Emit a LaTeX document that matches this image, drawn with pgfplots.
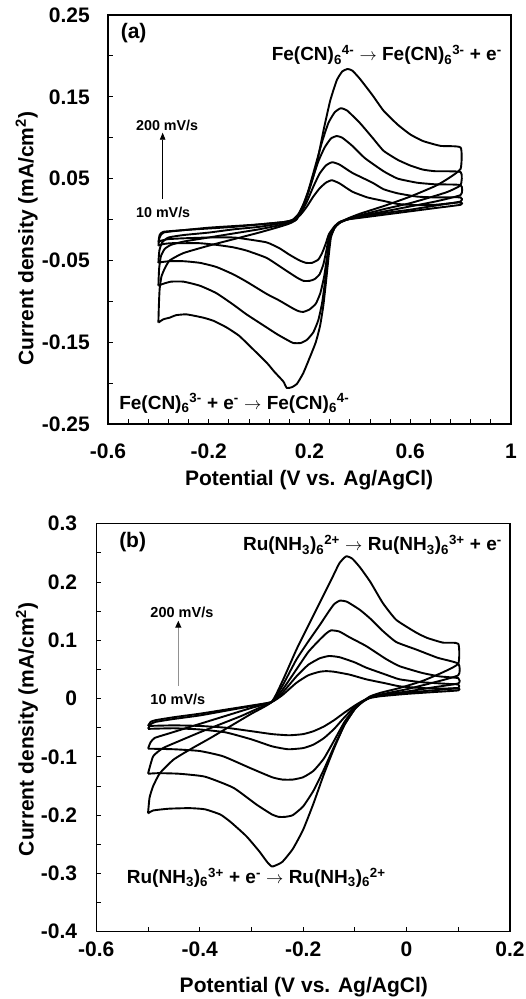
\documentclass[border=0pt]{standalone}
\usepackage{pgfplots}
\pgfplotsset{compat=1.18}
\usepackage{fontspec}
\setmainfont{Liberation Sans}
\usetikzlibrary{arrows.meta}
\definecolor{shaftgray}{RGB}{145,145,145}
\pgfplotsset{
  cvstyle/.style={
    scale only axis, clip=false,
    axis line style={black, line width=1.1pt},
    tick align=inside, tick pos=left,
    major tick length=5pt, minor tick length=5pt,
    every tick/.style={black, line width=0.9pt},
    ticklabel style={font=\fontsize{21}{21}\selectfont\bfseries, inner sep=0pt},
    label style={font=\fontsize{21}{21}\selectfont\bfseries},
  },
  cv/.style={black, line width=1.9pt, smooth, tension=0.3, line join=round},
}
\begin{document}
\begin{tikzpicture}
% ---------------- (a) ----------------
\begin{axis}[cvstyle, at={(108pt,575pt)}, anchor=south west, width=403pt, height=409pt,
  xmin=-0.6, xmax=1, ymin=-0.25, ymax=0.25,
  xtick={-0.6,-0.2,0.2,0.6,1}, xticklabels={-0.6,-0.2,0.2,0.6,1},
  minor xtick={-0.52,-0.44,-0.36,-0.28,-0.12,-0.04,0.04,0.12,0.28,0.36,0.44,0.52,0.68,0.76,0.84,0.92},
  ytick={-0.25,-0.15,-0.05,0.05,0.15,0.25}, yticklabels={-0.25,-0.15,-0.05,0.05,0.15,0.25},
  minor ytick={-0.2,-0.1,0,0.1,0.2},
  xticklabel style={anchor=north, yshift=-20pt},
  yticklabel style={anchor=east, xshift=-18pt},
  xlabel={Potential (V vs. Ag/AgCl)},
  ylabel={Current density (mA/cm\textsuperscript{2})},
  xlabel style={at={(rel axis cs:0.499,-0.1516)}, anchor=base},
  ylabel style={at={(rel axis cs:-0.2017,0.4535)}, anchor=center},
]
% 10 mV/s
\addplot[cv] coordinates {(-0.4,-0.028) (-0.395,-0.019) (-0.38,-0.015) (-0.3,-0.013) (-0.2,-0.010) (-0.1,-0.008) (0,-0.006) (0.1,-0.003) (0.14,0.000) (0.165,0.006) (0.19,0.016) (0.215,0.028) (0.24,0.038) (0.265,0.045) (0.289,0.048) (0.32,0.044) (0.37,0.034) (0.43,0.027) (0.494,0.0227) (0.55,0.019) (0.627,0.0175) (0.7,0.018) (0.8,0.021)
 (0.8,0.018) (0.7,0.014) (0.6,0.010) (0.5,0.006) (0.4,0.002) (0.35,0.000) (0.32,-0.003) (0.30,-0.008) (0.277,-0.018) (0.264,-0.030) (0.25,-0.041) (0.235,-0.049) (0.21,-0.053) (0.186,-0.053) (0.16,-0.050) (0.12,-0.043) (0.08,-0.035) (0.03,-0.028) (-0.05,-0.024) (-0.1,-0.022) (-0.2,-0.022) (-0.3,-0.023) (-0.36,-0.024) (-0.39,-0.026) (-0.4,-0.028)};
% 20 mV/s
\addplot[cv] coordinates {(-0.4,-0.032) (-0.395,-0.022) (-0.38,-0.016) (-0.3,-0.013) (-0.2,-0.011) (-0.1,-0.009) (0,-0.006) (0.1,-0.003) (0.14,0.000) (0.165,0.008) (0.19,0.022) (0.215,0.040) (0.24,0.056) (0.265,0.066) (0.29,0.070) (0.32,0.067) (0.37,0.057) (0.45,0.045) (0.494,0.037) (0.55,0.032) (0.627,0.028) (0.7,0.027) (0.8,0.027)
 (0.8,0.022) (0.7,0.017) (0.6,0.012) (0.5,0.008) (0.4,0.003) (0.35,0.000) (0.32,-0.003) (0.30,-0.009) (0.279,-0.020) (0.267,-0.038) (0.255,-0.055) (0.24,-0.067) (0.22,-0.073) (0.2,-0.075) (0.176,-0.075) (0.15,-0.071) (0.1,-0.061) (0.03,-0.047) (-0.05,-0.038) (-0.103,-0.034) (-0.17,-0.031) (-0.235,-0.029) (-0.3,-0.029) (-0.35,-0.029) (-0.38,-0.030) (-0.4,-0.032)};
% 50 mV/s
\addplot[cv] coordinates {(-0.4,-0.053) (-0.396,-0.038) (-0.385,-0.028) (-0.36,-0.022) (-0.3,-0.019) (-0.2,-0.016) (-0.1,-0.012) (0,-0.009) (0.08,-0.005) (0.13,-0.001) (0.16,0.008) (0.185,0.025) (0.21,0.048) (0.235,0.071) (0.26,0.088) (0.285,0.099) (0.308,0.102) (0.33,0.100) (0.37,0.090) (0.42,0.075) (0.494,0.059) (0.55,0.050) (0.627,0.045) (0.7,0.043) (0.8,0.042)
 (0.8,0.030) (0.7,0.022) (0.6,0.016) (0.5,0.010) (0.4,0.004) (0.35,0.000) (0.32,-0.004) (0.30,-0.010) (0.281,-0.022) (0.270,-0.045) (0.258,-0.070) (0.243,-0.090) (0.225,-0.103) (0.2,-0.110) (0.175,-0.113) (0.156,-0.112) (0.13,-0.108) (0.08,-0.099) (0.03,-0.091) (-0.05,-0.076) (-0.103,-0.067) (-0.17,-0.058) (-0.235,-0.053) (-0.3,-0.051) (-0.355,-0.051) (-0.385,-0.052) (-0.4,-0.053)};
% 100 mV/s
\addplot[cv] coordinates {(-0.4,-0.081) (-0.397,-0.060) (-0.39,-0.045) (-0.375,-0.036) (-0.35,-0.031) (-0.3,-0.027) (-0.2,-0.022) (-0.1,-0.017) (0,-0.012) (0.08,-0.007) (0.13,-0.002) (0.155,0.006) (0.175,0.018) (0.195,0.035) (0.22,0.062) (0.25,0.095) (0.275,0.118) (0.30,0.131) (0.324,0.136) (0.35,0.133) (0.40,0.118) (0.45,0.100) (0.494,0.084) (0.55,0.073) (0.6,0.066) (0.65,0.061) (0.7,0.059) (0.8,0.058)
 (0.8,0.042) (0.75,0.034) (0.7,0.029) (0.6,0.020) (0.5,0.013) (0.4,0.005) (0.35,0.000) (0.32,-0.004) (0.30,-0.010) (0.283,-0.022) (0.273,-0.045) (0.262,-0.075) (0.25,-0.102) (0.235,-0.123) (0.215,-0.138) (0.19,-0.147) (0.165,-0.151) (0.136,-0.151) (0.11,-0.147) (0.07,-0.140) (0.03,-0.132) (-0.05,-0.116) (-0.103,-0.104) (-0.17,-0.090) (-0.235,-0.081) (-0.3,-0.076) (-0.35,-0.076) (-0.385,-0.079) (-0.4,-0.081)};
% 200 mV/s
\addplot[cv] coordinates {(-0.4,-0.126) (-0.398,-0.105) (-0.395,-0.085) (-0.388,-0.070) (-0.375,-0.060) (-0.355,-0.050) (-0.3,-0.041) (-0.2,-0.032) (-0.1,-0.024) (0,-0.016) (0.08,-0.009) (0.12,-0.005) (0.149,0.000) (0.17,0.012) (0.189,0.027) (0.21,0.047) (0.229,0.068) (0.255,0.108) (0.282,0.145) (0.308,0.170) (0.33,0.181) (0.351,0.184) (0.37,0.182) (0.40,0.172) (0.45,0.152) (0.494,0.133) (0.55,0.116) (0.600,0.104) (0.65,0.096) (0.72,0.090) (0.8,0.088)
 (0.8,0.062) (0.75,0.050) (0.7,0.041) (0.6,0.028) (0.5,0.017) (0.4,0.007) (0.35,0.001) (0.32,-0.004) (0.30,-0.010) (0.285,-0.022) (0.276,-0.045) (0.266,-0.075) (0.255,-0.105) (0.242,-0.130) (0.225,-0.150) (0.202,-0.168) (0.175,-0.188) (0.15,-0.201) (0.13,-0.205) (0.110,-0.206) (0.096,-0.198) (0.06,-0.186) (0.03,-0.175) (-0.036,-0.155) (-0.08,-0.142) (-0.129,-0.132) (-0.18,-0.124) (-0.222,-0.120) (-0.288,-0.116) (-0.33,-0.117) (-0.355,-0.120) (-0.38,-0.122) (-0.4,-0.126)};
\node[anchor=west, font=\fontsize{21}{21}\selectfont\bfseries, inner sep=0pt] at (axis cs:-0.55,0.228) {(a)};
\node[anchor=base east, font=\fontsize{19}{19}\selectfont\bfseries, inner sep=0pt] at (axis cs:0.964,0.1938) {Fe(CN)\textsubscript{6}\textsuperscript{4-} $\rightarrow$ Fe(CN)\textsubscript{6}\textsuperscript{3-} + e\textsuperscript{-}};
\node[anchor=base west, font=\fontsize{19}{19}\selectfont\bfseries, inner sep=0pt] at (axis cs:-0.556,-0.232) {Fe(CN)\textsubscript{6}\textsuperscript{3-} + e\textsuperscript{-} $\rightarrow$ Fe(CN)\textsubscript{6}\textsuperscript{4-}};
\node[anchor=base west, font=\fontsize{14.3}{14.3}\selectfont\bfseries, inner sep=0pt] at (axis cs:-0.489,0.1086) {200 mV/s};
\node[anchor=base west, font=\fontsize{14.3}{14.3}\selectfont\bfseries, inner sep=0pt] at (axis cs:-0.489,0.003) {10 mV/s};
\draw[line width=0.8pt, -{Triangle[length=7pt,width=5.5pt]}] (axis cs:-0.383,0.025) -- (axis cs:-0.383,0.1061);
\end{axis}
% ---------------- (b) ----------------
\begin{axis}[cvstyle, at={(96.3pt,67.3pt)}, anchor=south west, width=413.7pt, height=408pt,
  xmin=-0.6, xmax=0.2, ymin=-0.4, ymax=0.3,
  xtick={-0.6,-0.4,-0.2,0,0.2}, xticklabels={-0.6,-0.4,-0.2,0,0.2},
  minor xtick={-0.5,-0.3,-0.1,0.1},
  ytick={-0.4,-0.3,-0.2,-0.1,0,0.1,0.2,0.3}, yticklabels={-0.4,-0.3,-0.2,-0.1,0,0.1,0.2,0.3},
  minor ytick={-0.35,-0.25,-0.15,-0.05,0.05,0.15,0.25},
  xticklabel style={anchor=north, yshift=-10pt},
  yticklabel style={anchor=east, xshift=-19pt},
  xlabel={Potential (V vs. Ag/AgCl)},
  ylabel={Current density (mA/cm\textsuperscript{2})},
  xlabel style={at={(rel axis cs:0.5016,-0.1495)}, anchor=base},
  ylabel style={at={(rel axis cs:-0.1675,0.4963)}, anchor=center},
]
% 10 mV/s
\addplot[cv] coordinates {(-0.5,-0.047) (-0.495,-0.040) (-0.485,-0.037) (-0.45,-0.032) (-0.40,-0.026) (-0.35,-0.019) (-0.30,-0.012) (-0.261,-0.006) (-0.24,0.006) (-0.213,0.027) (-0.19,0.040) (-0.168,0.046) (-0.155,0.047) (-0.14,0.046) (-0.11,0.041) (-0.078,0.033) (-0.04,0.026) (-0.0135,0.021) (0.03,0.018) (0.07,0.017) (0.1,0.018)
 (0.1,0.014) (0.05,0.011) (0,0.008) (-0.05,0.004) (-0.07,0.001) (-0.085,-0.004) (-0.10,-0.012) (-0.12,-0.024) (-0.14,-0.037) (-0.16,-0.048) (-0.18,-0.056) (-0.20,-0.061) (-0.227,-0.063) (-0.26,-0.061) (-0.3,-0.056) (-0.35,-0.050) (-0.4,-0.047) (-0.45,-0.046) (-0.5,-0.047)};
% 20 mV/s
\addplot[cv] coordinates {(-0.5,-0.052) (-0.495,-0.044) (-0.485,-0.040) (-0.45,-0.035) (-0.40,-0.029) (-0.35,-0.021) (-0.30,-0.013) (-0.261,-0.006) (-0.24,0.010) (-0.213,0.038) (-0.19,0.058) (-0.168,0.069) (-0.15,0.073) (-0.13,0.071) (-0.1,0.062) (-0.078,0.053) (-0.04,0.041) (-0.0135,0.033) (0.03,0.028) (0.083,0.025) (0.1,0.024)
 (0.1,0.018) (0.05,0.014) (0,0.010) (-0.05,0.005) (-0.07,0.002) (-0.085,-0.005) (-0.10,-0.014) (-0.12,-0.032) (-0.14,-0.052) (-0.16,-0.068) (-0.18,-0.079) (-0.20,-0.085) (-0.229,-0.087) (-0.26,-0.082) (-0.3,-0.070) (-0.35,-0.058) (-0.4,-0.053) (-0.45,-0.051) (-0.5,-0.052)};
% 50 mV/s
\addplot[cv] coordinates {(-0.5,-0.086) (-0.495,-0.075) (-0.487,-0.0675) (-0.46,-0.060) (-0.42,-0.049) (-0.38,-0.038) (-0.34,-0.027) (-0.30,-0.016) (-0.261,-0.006) (-0.24,0.015) (-0.213,0.050) (-0.19,0.080) (-0.168,0.101) (-0.155,0.112) (-0.146,0.117) (-0.13,0.115) (-0.11,0.105) (-0.078,0.090) (-0.04,0.068) (-0.0135,0.0555) (0.03,0.044) (0.064,0.038) (0.1,0.035)
 (0.1,0.026) (0.05,0.019) (0,0.012) (-0.05,0.006) (-0.07,0.002) (-0.085,-0.005) (-0.10,-0.016) (-0.12,-0.040) (-0.14,-0.072) (-0.16,-0.103) (-0.18,-0.124) (-0.20,-0.135) (-0.22,-0.139) (-0.240,-0.139) (-0.26,-0.135) (-0.303,-0.119) (-0.355,-0.099) (-0.4,-0.090) (-0.45,-0.087) (-0.5,-0.086)};
% 100 mV/s
\addplot[cv] coordinates {(-0.5,-0.129) (-0.49,-0.099) (-0.471,-0.085) (-0.44,-0.073) (-0.40,-0.058) (-0.36,-0.044) (-0.32,-0.030) (-0.29,-0.018) (-0.261,-0.006) (-0.24,0.022) (-0.213,0.067) (-0.19,0.098) (-0.168,0.126) (-0.15,0.150) (-0.14,0.162) (-0.129,0.168) (-0.115,0.166) (-0.09,0.152) (-0.07,0.137) (-0.046,0.116) (-0.02,0.097) (0.019,0.084) (0.06,0.070) (0.1,0.060)
 (0.1,0.040) (0.05,0.027) (0,0.016) (-0.05,0.007) (-0.07,0.002) (-0.085,-0.006) (-0.10,-0.018) (-0.12,-0.045) (-0.14,-0.082) (-0.16,-0.122) (-0.18,-0.158) (-0.20,-0.185) (-0.22,-0.200) (-0.235,-0.203) (-0.247,-0.203) (-0.26,-0.199) (-0.29,-0.182) (-0.335,-0.153) (-0.39,-0.134) (-0.44,-0.129) (-0.48,-0.128) (-0.5,-0.129)};
% 200 mV/s
\addplot[cv] coordinates {(-0.5,-0.197) (-0.497,-0.170) (-0.49,-0.150) (-0.477,-0.128) (-0.451,-0.105) (-0.42,-0.088) (-0.38,-0.068) (-0.34,-0.047) (-0.30,-0.026) (-0.261,-0.006) (-0.24,0.030) (-0.213,0.084) (-0.19,0.125) (-0.168,0.164) (-0.145,0.205) (-0.13,0.232) (-0.117,0.244) (-0.105,0.240) (-0.09,0.225) (-0.07,0.200) (-0.046,0.164) (-0.02,0.135) (0.019,0.113) (0.04,0.104) (0.07,0.096) (0.1,0.094)
 (0.1,0.060) (0.07,0.045) (0.03,0.030) (-0.014,0.018) (-0.05,0.010) (-0.07,0.004) (-0.085,-0.005) (-0.10,-0.018) (-0.12,-0.045) (-0.14,-0.085) (-0.16,-0.13) (-0.18,-0.18) (-0.20,-0.225) (-0.22,-0.258) (-0.24,-0.280) (-0.255,-0.287) (-0.261,-0.288) (-0.27,-0.280) (-0.285,-0.262) (-0.31,-0.236) (-0.34,-0.212) (-0.36,-0.199) (-0.39,-0.190) (-0.42,-0.188) (-0.46,-0.189) (-0.49,-0.192) (-0.5,-0.197)};
\node[anchor=west, font=\fontsize{21}{21}\selectfont\bfseries, inner sep=0pt] at (axis cs:-0.556,0.268) {(b)};
\node[anchor=base east, font=\fontsize{19}{19}\selectfont\bfseries, inner sep=0pt] at (axis cs:0.1846,0.2532) {Ru(NH\textsubscript{3})\textsubscript{6}\textsuperscript{2+} $\rightarrow$ Ru(NH\textsubscript{3})\textsubscript{6}\textsuperscript{3+} + e\textsuperscript{-}};
\node[anchor=base west, font=\fontsize{19}{19}\selectfont\bfseries, inner sep=0pt] at (axis cs:-0.5412,-0.317) {Ru(NH\textsubscript{3})\textsubscript{6}\textsuperscript{3+} + e\textsuperscript{-} $\rightarrow$ Ru(NH\textsubscript{3})\textsubscript{6}\textsuperscript{2+}};
\node[anchor=base west, font=\fontsize{14.5}{14.5}\selectfont\bfseries, inner sep=0pt] at (axis cs:-0.4956,0.1387) {200 mV/s};
\node[anchor=base west, font=\fontsize{14.5}{14.5}\selectfont\bfseries, inner sep=0pt] at (axis cs:-0.4956,-0.011) {10 mV/s};
\draw[line width=1.3pt, shaftgray, -{Triangle[length=7pt,width=6pt,color=black]}] (axis cs:-0.4414,0.0221) -- (axis cs:-0.4414,0.1336);
\end{axis}
\pgfresetboundingbox
\path[use as bounding box] (0pt,0pt) rectangle (526pt,999pt);
\end{tikzpicture}
\end{document}
